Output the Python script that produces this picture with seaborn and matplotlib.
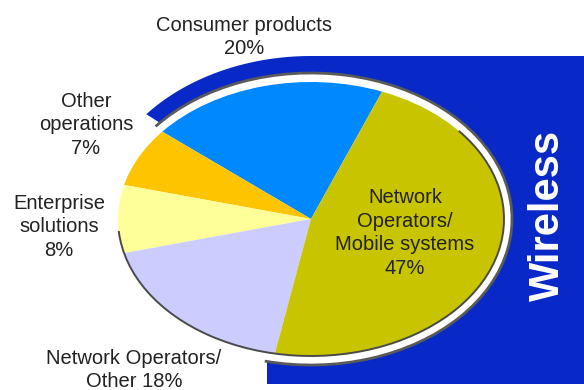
import numpy as np
import matplotlib
matplotlib.use("Agg")
import matplotlib.pyplot as plt
import seaborn as sns
from matplotlib.patches import Ellipse, Polygon, Rectangle, Arc

# ---------------- data ----------------
categories = ["Consumer products", "Other operations", "Enterprise solutions",
              "Network Operators/Other", "Network Operators/Mobile systems"]
shares = [20, 7, 8, 18, 47]
slice_colors = ["#0088FF", "#FFC400", "#FFFF99", "#CCCCFF", "#C8C400"]
label_texts = ["Consumer products\n20%", "Other\noperations\n7%",
               "Enterprise\nsolutions\n8%", "Network Operators/\nOther 18%",
               "Network\nOperators/\nMobile systems\n47%"]
band_title = "Wireless"

# ---------------- style ----------------
sns.set_theme(style="white")
plt.rcParams['font.family'] = ['Liberation Sans', 'DejaVu Sans']

W, H = 584, 390
fig = plt.figure(figsize=(W / 100, H / 100), dpi=100)
fig.patch.set_facecolor("white")

# pie geometry (pixels): centre and radii of the elliptical pie
cx, cy, rx, ry = 311, 219, 193, 137

ax = fig.add_axes([0, 0, 1, 1])
BLUE = "#0829C8"

# blue band: outer elliptical arc + rectangles
rxo, ryo = 215, 163
t = np.deg2rad(np.linspace(-60, 140, 200))
arc_pts = [((rxo * np.cos(a)) / rx, (ryo * np.sin(a)) / ry) for a in t]
ax.add_patch(Polygon([(0, 0)] + arc_pts, closed=True, facecolor=BLUE,
                     edgecolor="none", zorder=1))
xr = (W - cx) / rx + 0.1
y0 = (cy - 384) / ry
y1 = (cy - 56) / ry
ax.add_patch(Rectangle((0, y0), xr, y1 - y0,
                       facecolor=BLUE, edgecolor="none", zorder=1))
x0 = (267 - cx) / rx
ax.add_patch(Rectangle((x0, y0), -x0 + 0.01, -y0,
                       facecolor=BLUE, edgecolor="none", zorder=1))

# white bevel ring around the pie
rw, rh = 2 * 201 / rx, 2 * 146 / ry
ax.add_patch(Ellipse((0, 0), rw, rh, facecolor="white", edgecolor="none", zorder=2))
ax.add_patch(Arc((0, 0), rw, rh, theta1=-103, theta2=140, color="#5a5a5a",
                 lw=2.0, zorder=3))

# pie
wedges, _ = ax.pie(shares, colors=slice_colors, startangle=68.4,
                   counterclock=True, radius=1, center=(0, 0),
                   wedgeprops=dict(linewidth=0))
for w in wedges:
    w.set_zorder(4)
ax.add_patch(Arc((0, 0), 2, 2, theta1=185, theta2=400, color="#4a4a4a",
                 lw=1.4, zorder=5))

ax.set_aspect('auto')
ax.set_xlim(-cx / rx, (W - cx) / rx)
ax.set_ylim((cy - H) / ry, cy / ry)
ax.axis('off')

# ---------------- text overlay in pixel coordinates ----------------
ax2 = fig.add_axes([0, 0, 1, 1])
ax2.set_xlim(0, W)
ax2.set_ylim(H, 0)
ax2.axis('off')
ax2.patch.set_alpha(0)

label_pos = [(244, 37), (86, 125), (59, 227), (134, 370), (405, 233)]
for txt, (px, py) in zip(label_texts, label_pos):
    ax2.text(px, py, txt, ha="center", va="center", fontsize=14.5,
             color="#222222", linespacing=1.3, multialignment="center")

ax2.text(548, 215, band_title, rotation=90, ha="center", va="center",
         fontsize=30, fontweight="bold", color="white")

fig.savefig("out.png", dpi=100, facecolor="white")
